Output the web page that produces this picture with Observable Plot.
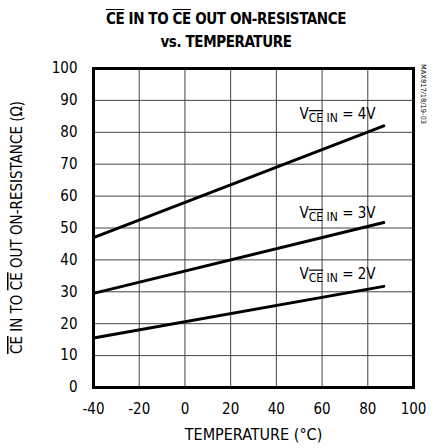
<!DOCTYPE html>
<html>
<head>
<meta charset="utf-8">
<script src="https://cdn.jsdelivr.net/npm/d3@7"></script>
<script src="https://cdn.jsdelivr.net/npm/@observablehq/plot@0.6"></script>
<style>
  body { margin: 0; background: #fff; }
  #title { width: 435px; height: 56px; box-sizing: border-box; padding-top: 8px; padding-left: 17px;
    font-family: "DejaVu Sans Condensed", "DejaVu Sans", sans-serif; font-stretch: condensed;
    font-weight: bold; font-size: 15px; letter-spacing: -0.4px; line-height: 23px; text-align: center; color: #000; }
  .ol { text-decoration: overline; }
</style>
</head>
<body>
<div id="title"><span class="ol">CE</span> IN TO <span class="ol">CE</span> OUT ON-RESISTANCE<br>vs. TEMPERATURE</div>
<div id="chart"></div>
<script>
const temps = [-40, 87];
const r4V = [47, 82];
const r3V = [29.5, 51.7];
const r2V = [15.5, 31.7];
const seriesNames = ["4V", "3V", "2V"];
const seriesValues = [r4V, r3V, r2V];
const labelX = [67, 67, 67];
const labelY = [84, 53, 34];
const xTicks = [-40, -20, 0, 20, 40, 60, 80, 100];
const yTicks = [0, 10, 20, 30, 40, 50, 60, 70, 80, 90, 100];

const data = [];
seriesNames.forEach((s, i) => temps.forEach((t, j) => data.push({series: s, t, r: seriesValues[i][j]})));

const font = '"DejaVu Sans Condensed", "DejaVu Sans", sans-serif';

const chart = Plot.plot({
  width: 435,
  height: 392,
  marginTop: 12,
  marginBottom: 61,
  marginLeft: 93,
  marginRight: 22,
  style: {fontFamily: font, fontStretch: "condensed", fontSize: "15px", color: "#000", background: "#fff"},
  x: {domain: [-40, 100], ticks: xTicks, tickFormat: d => String(d), tickSize: 0, tickPadding: 16, label: "TEMPERATURE (°C)", labelAnchor: "center", labelOffset: 52, labelArrow: "none"},
  y: {domain: [0, 100], ticks: yTicks, tickFormat: d => String(d), tickSize: 0, tickPadding: 16, label: null},
  marks: [
    Plot.gridX(xTicks, {stroke: "#444", strokeOpacity: 1, strokeWidth: 1}),
    Plot.gridY(yTicks, {stroke: "#444", strokeOpacity: 1, strokeWidth: 1}),
    Plot.line(data, {x: "t", y: "r", z: "series", stroke: "#000", strokeWidth: 3}),
    Plot.frame({stroke: "#000", strokeWidth: 3})
  ]
});
document.getElementById("chart").appendChild(chart);
d3.select(chart).selectAll('[aria-label="x-axis label"] text').attr("font-size", 16);

const svg = d3.select(chart);
const xs = chart.scale("x"), ys = chart.scale("y");

// series labels
seriesNames.forEach((s, i) => {
  const t = svg.append("text")
    .attr("x", xs.apply(labelX[i]))
    .attr("y", ys.apply(labelY[i]))
    .attr("text-anchor", "middle")
    .attr("font-family", font)
    .style("font-stretch", "condensed")
    .attr("font-size", 15)
    .attr("fill", "#000");
  t.append("tspan").text("V");
  t.append("tspan").attr("font-size", 12).attr("dy", 3).style("text-decoration", "overline").text("CE");
  t.append("tspan").attr("font-size", 12).text(" IN");
  t.append("tspan").attr("dy", -3).text(" = " + s);
});

// y-axis label
const yl = svg.append("text")
  .attr("transform", `translate(22,${(ys.apply(0) + ys.apply(100)) / 2}) rotate(-90)`)
  .attr("text-anchor", "middle")
  .attr("font-family", font)
  .style("font-stretch", "condensed")
  .attr("font-size", 15)
  .attr("fill", "#000");
yl.append("tspan").style("text-decoration", "overline").text("CE");
yl.append("tspan").text(" IN TO ");
yl.append("tspan").style("text-decoration", "overline").text("CE");
yl.append("tspan").text(" OUT ON-RESISTANCE (Ω)");

// side code
svg.append("text")
  .attr("transform", `translate(421,8) rotate(90)`)
  .attr("text-anchor", "start")
  .attr("font-family", font)
  .style("font-stretch", "condensed")
  .attr("font-size", 7)
  .attr("textLength", 60)
  .attr("lengthAdjust", "spacingAndGlyphs")
  .attr("fill", "#000")
  .text("MAX817/18/19-03");
</script>
</body>
</html>
